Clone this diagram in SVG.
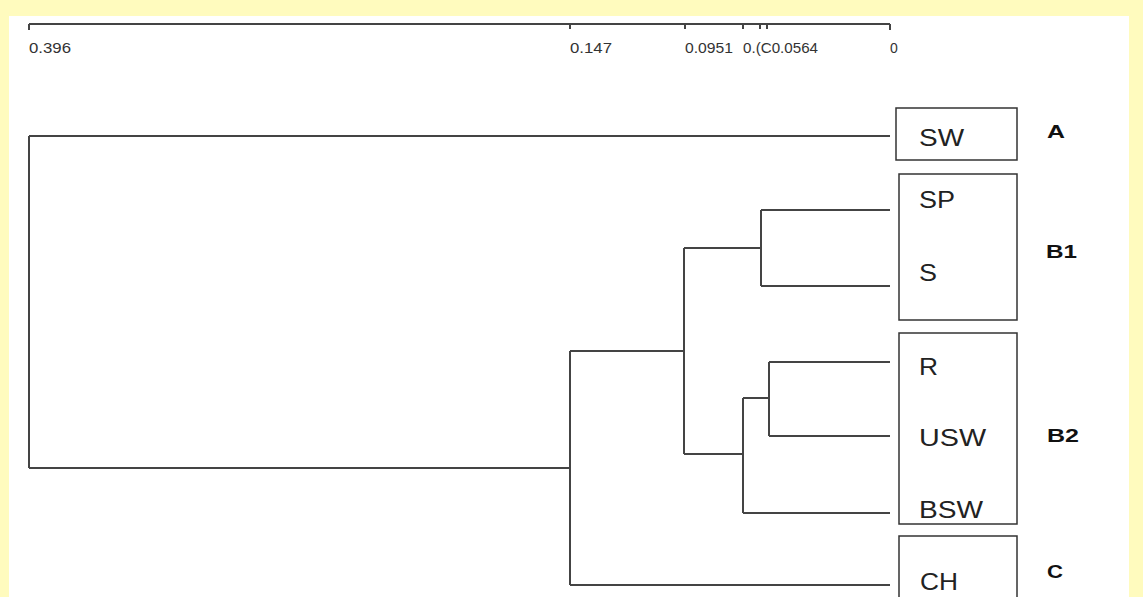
<svg xmlns="http://www.w3.org/2000/svg" width="1143" height="597" viewBox="0 0 1143 597">
<style>
.ln{fill:none;stroke:#444;stroke-width:2}
.box{fill:none;stroke:#333;stroke-width:1.5}
.tick{font-family:"Liberation Sans",Arial,sans-serif;font-size:14px;fill:#333}
.leaf{font-family:"Liberation Sans",Arial,sans-serif;font-size:24px;fill:#222}
.grp{font-family:"Liberation Sans",Arial,sans-serif;font-size:19px;font-weight:bold;fill:#111}
</style>
<rect x="0" y="0" width="1143" height="597" fill="#FFFBBE"/>
<rect x="9" y="16" width="1120" height="581" fill="#FFFFFF"/>
<g id="axis">
<path class="ln" d="M29,24 H890 M29,24 V30 M570,24 V29 M685,24 V29 M743,24 V29 M760,24 V29 M767,24 V29 M890,24 V30"/>
<text class="tick" x="29" y="53" textLength="42" lengthAdjust="spacingAndGlyphs">0.396</text>
<text class="tick" x="570" y="53" textLength="42" lengthAdjust="spacingAndGlyphs">0.147</text>
<text class="tick" x="685" y="53" textLength="48" lengthAdjust="spacingAndGlyphs">0.0951</text>
<text class="tick" x="743" y="53" textLength="75" lengthAdjust="spacingAndGlyphs">0.(C0.0564</text>
<text class="tick" x="890" y="53">0</text>
</g>
<g id="connectors">
<path class="ln" d="M29,136 V468 M29,136 H890 M29,468 H570"/>
<path class="ln" d="M570,351 V585 M570,351 H684 M570,585 H890"/>
<path class="ln" d="M684,248 V454 M684,248 H761 M684,454 H743"/>
<path class="ln" d="M761,210 V286 M761,210 H890 M761,286 H890"/>
<path class="ln" d="M743,398 V513 M743,398 H769 M743,513 H890"/>
<path class="ln" d="M769,362 V436 M769,362 H890 M769,436 H890"/>
</g>
<g id="group-A">
<rect class="box" x="896" y="108" width="121" height="52"/>
<text class="leaf" x="919" y="146" textLength="45" lengthAdjust="spacingAndGlyphs">SW</text>
<text class="grp" x="1047" y="138" textLength="18" lengthAdjust="spacingAndGlyphs">A</text>
</g>
<g id="group-B1">
<rect class="box" x="899" y="174" width="118" height="146"/>
<text class="leaf" x="919" y="208" textLength="36" lengthAdjust="spacingAndGlyphs">SP</text>
<text class="leaf" x="919" y="281" textLength="18" lengthAdjust="spacingAndGlyphs">S</text>
<text class="grp" x="1046" y="258" textLength="31" lengthAdjust="spacingAndGlyphs">B1</text>
</g>
<g id="group-B2">
<rect class="box" x="899" y="333" width="118" height="191"/>
<text class="leaf" x="919" y="375" textLength="19" lengthAdjust="spacingAndGlyphs">R</text>
<text class="leaf" x="919" y="446" textLength="67" lengthAdjust="spacingAndGlyphs">USW</text>
<text class="leaf" x="919" y="518" textLength="64" lengthAdjust="spacingAndGlyphs">BSW</text>
<text class="grp" x="1047" y="442" textLength="32" lengthAdjust="spacingAndGlyphs">B2</text>
</g>
<g id="group-C">
<rect class="box" x="899" y="536" width="118" height="70"/>
<text class="leaf" x="920" y="590" textLength="38" lengthAdjust="spacingAndGlyphs">CH</text>
<text class="grp" x="1047" y="578" textLength="16" lengthAdjust="spacingAndGlyphs">C</text>
</g>
</svg>
